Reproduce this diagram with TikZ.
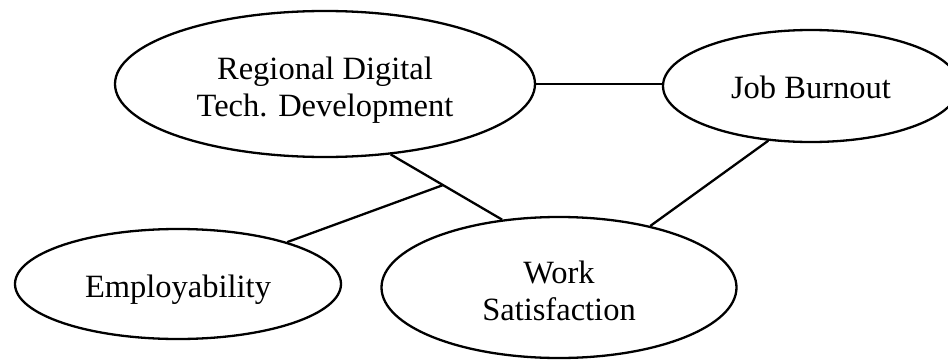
\documentclass[tikz,border=0pt]{standalone}
\usepackage{fontspec}
\setmainfont{Liberation Serif}
\usetikzlibrary{shapes.geometric,calc}

\tikzset{
  construct/.style={draw, ellipse, line width=2.3pt, inner sep=0pt},
  caption/.style={align=center, inner sep=0pt,
    font=\fontsize{32.5}{37}\selectfont},
  link/.style={line width=2.3pt}
}

\begin{document}
\begin{tikzpicture}[x=1pt,y=-1pt]
  \useasboundingbox (0,0) rectangle (948,359);

  % constructs, each with its caption set at the centre
  \node[construct, minimum width=420pt, minimum height=146pt,
        label={[caption, yshift=-5.8pt]center:Regional Digital\\Tech. Development}]
    (rdtd) at (325,84) {};
  \node[construct, minimum width=296pt, minimum height=112pt,
        label={[caption, yshift=-1pt]center:Job Burnout}]
    (jb) at (811,86) {};
  \node[construct, minimum width=326pt, minimum height=110pt,
        label={[caption, yshift=-5.4pt]center:Employability}]
    (emp) at (178,284) {};
  \node[construct, minimum width=355pt, minimum height=141pt,
        label={[caption, yshift=-2.9pt]center:Work\\Satisfaction}]
    (ws) at (559,287.5) {};

  % relations
  \draw[link] (rdtd.east) -- (rdtd.east -| jb.west);
  \draw[link] (rdtd.-47) -- (ws.130.3);
  \coordinate (mid) at ($(rdtd.-47)!0.47!(ws.130.3)$);
  \draw[link] (emp.21) -- (mid);
  \draw[link] (jb.-128.5) -- (ws.34);
\end{tikzpicture}
\end{document}
